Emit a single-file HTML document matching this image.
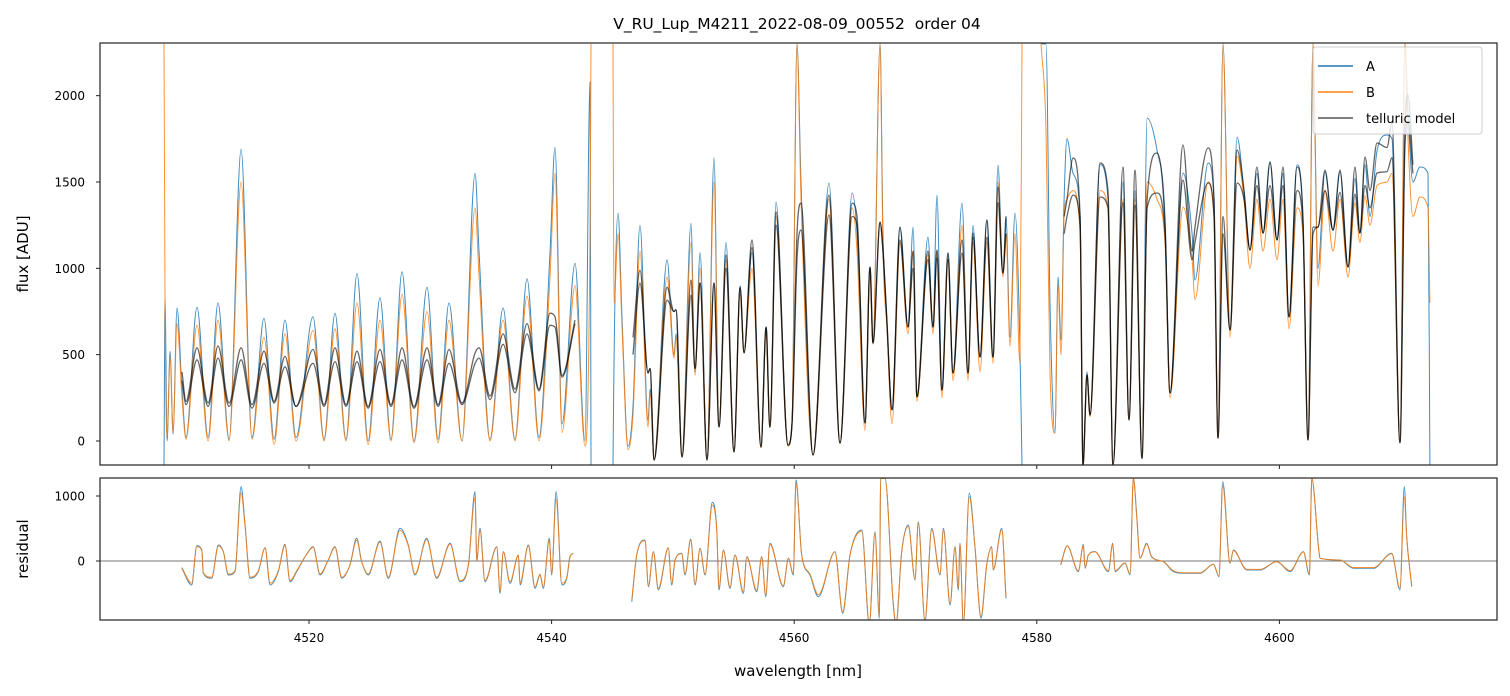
<!DOCTYPE html>
<html><head><meta charset="utf-8">
<style>
html,body{margin:0;padding:0;background:#fff;}
svg{display:block;font-family:"DejaVu Sans","Liberation Sans",sans-serif;}
</style></head>
<body>
<svg id="chart" width="1510" height="696" viewBox="0 0 1510 696" xmlns="http://www.w3.org/2000/svg">
<defs>
<clipPath id="clipTop"><rect x="100" y="43" width="1397" height="422"/></clipPath>
<clipPath id="clipRes"><rect x="100" y="478" width="1397" height="142"/></clipPath>
</defs>
<rect x="0" y="0" width="1510" height="696" fill="#fff"/>
<text x="797" y="29" font-size="15.5" text-anchor="middle" fill="#000" xml:space="preserve">V_RU_Lup_M4211_2022-08-09_00552  order 04</text>
<g id="topPlot" clip-path="url(#clipTop)"></g>
<g id="resPlot" clip-path="url(#clipRes)"></g>
<g id="axes"></g>
<text transform="translate(28,254) rotate(-90)" font-size="15" text-anchor="middle">flux [ADU]</text>
<text transform="translate(28,549) rotate(-90)" font-size="15" text-anchor="middle">residual</text>
<text x="798" y="676" font-size="15" text-anchor="middle">wavelength [nm]</text>
<g>
<rect x="1313" y="47" width="169" height="87" rx="3" fill="#fff" fill-opacity="0.8" stroke="#ccc" stroke-width="1"/>
<line x1="1318" y1="66" x2="1353" y2="66" stroke="#1f77b4" stroke-width="1.5"/>
<text x="1366" y="71" font-size="13">A</text>
<line x1="1318" y1="92" x2="1353" y2="92" stroke="#ff7f0e" stroke-width="1.5"/>
<text x="1366" y="97" font-size="13">B</text>
<line x1="1318" y1="118" x2="1353" y2="118" stroke="#555" stroke-width="1.5"/>
<text x="1366" y="123" font-size="13">telluric model</text>
</g>
</svg>
<script>
// ---- data: flux panel ----
const wl = [4508.05,4508.13,4508.30,4508.55,4508.79,4509.12,4509.53,4509.86,4510.77,4511.68,4512.50,4513.41,4514.40,4515.30,4516.29,4517.12,4518.02,4518.93,4520.33,4521.24,4522.14,4523.05,4523.96,4524.87,4525.85,4526.76,4527.67,4528.66,4529.73,4530.64,4531.54,4532.61,4533.69,4534.02,4534.92,4536.00,4536.98,4537.97,4538.96,4539.87,4540.28,4540.86,4541.93,4542.75,4543.17,4543.25,
4544.5,4545.06,4545.15,4545.48,4545.81,4546.30,4546.71,4547.29,4547.95,4548.12,4548.45,4549.52,4550.09,4550.26,4550.75,4551.49,4551.82,4552.24,4552.81,4553.39,4553.80,4554.38,4555.04,4555.54,4555.86,4556.52,4557.26,4557.68,4558.00,4558.50,4559.49,4559.82,4560.23,4560.56,4561.55,4562.87,4563.78,4564.77,4565.18,4565.84,4566.25,4566.50,4567.08,4567.32,4567.65,4568.06,4568.72,4569.38,4569.80,4570.12,4571.03,4571.44,4571.77,4572.18,4572.68,4573.09,4573.83,4574.33,4574.74,4575.32,4575.89,4576.39,4576.80,4577.21,4577.46,4577.79,4578.20,4578.61,4578.78,
4579.5,4580.35,4580.76,4581.09,4581.50,4581.75,4582.00,4582.25,4582.49,4582.99,4583.57,4583.81,4584.14,4584.39,4585.21,4585.87,4586.28,4587.11,4587.60,4588.10,4588.67,4589.09,4589.91,4590.57,4590.98,4592.05,4592.80,4593.04,4594.12,4594.61,4594.94,4595.35,4595.93,4596.51,4597.08,4597.58,4598.15,4598.65,4599.23,4599.80,4600.30,4600.79,4601.45,4601.94,4602.36,4602.77,4603.18,4603.76,4604.42,4605.00,4605.66,4606.23,4606.64,4607.06,4607.47,4608.05,4608.87,4609.28,4609.94,4610.35,4610.60,4611.01,4611.59,4612.25,4612.41];
const fluxA = [-140,830,0,520,40,770,300,20,775,20,800,10,1690,20,710,10,700,20,720,10,740,10,970,0,830,10,980,0,890,10,800,0,1550,1090,10,770,10,940,20,1090,1700,100,1030,0,2080,-140,
null,-140,500,1320,700,-30,200,1250,120,300,-110,1050,500,620,-90,1260,400,1090,-110,1640,80,1150,-60,900,510,1090,-35,660,80,1384,-23,100,2300,1500,-80,1494,-12,1436,1200,104,1007,567,2300,1200,683,180,1239,660,1239,255,1181,660,1424,295,1089,394,1378,394,1250,486,1280,486,1598,973,1300,600,1320,550,-140,
null,2300,2300,800,46,950,585,1400,1750,1550,1300,-140,400,150,1600,1400,-140,1500,122,1450,-100,1870,1685,1300,278,1552,1200,932,1610,1400,17,2300,643,1760,1450,1106,1550,1204,1616,1164,1550,718,1600,1300,6,2300,1000,1560,1222,1560,1007,1520,1204,1600,1300,1680,1772,1750,-10,2300,1900,1500,1587,1550,-140];
const fluxB = [2300,830,30,480,50,680,250,10,670,0,700,0,1500,10,600,-20,620,0,640,0,650,0,800,-20,700,0,850,-10,750,-10,700,0,1350,950,0,700,0,840,0,950,1550,50,900,-30,1200,2300,
null,2300,800,1200,650,-50,150,1100,80,280,-100,950,480,600,-90,1150,380,1000,-110,1500,80,1050,-60,850,510,1000,-40,620,80,1300,-30,100,2300,1400,-80,1400,-15,1350,1100,60,950,560,2300,1100,650,100,1150,620,1100,230,1080,620,1100,250,1050,350,1250,350,1150,400,1150,450,1500,950,1200,550,1200,450,2300,
null,2300,1800,400,46,900,500,1300,1400,1450,1200,-140,380,140,1450,1350,-140,1400,122,1400,-100,1500,1400,1150,250,1355,1050,820,1500,1300,17,2300,600,1650,1400,1000,1400,1100,1400,1050,1400,650,1350,1200,6,2300,900,1450,1100,1400,950,1380,1150,1420,1250,1480,1500,1550,-10,2300,1750,1300,1413,1350,800];
const modelHi = [null,null,null,null,null,null,400,230,540,220,550,220,540,210,520,230,490,200,530,210,540,210,520,200,530,210,540,200,540,210,530,220,510,540,260,620,300,680,300,740,720,380,700,null,null,null,
null,null,null,null,null,null,600,990,394,420,-110,890,750,760,-93,932,420,915,-110,915,81,1077,-64,890,510,1164,-35,660,80,1326,-23,100,1200,1378,-81,1424,-12,1378,1300,104,1007,567,1268,1100,683,180,1239,660,1100,255,1100,660,1106,295,1089,394,1164,394,1204,486,1280,486,1471,973,1300,null,null,null,null,
null,null,null,null,null,null,null,1300,1400,1639,1300,-140,383,150,1610,1450,-140,1587,122,1569,-100,1400,1668,1250,278,1714,1100,1239,1697,1400,17,1300,643,1685,1450,1106,1587,1204,1616,1164,1587,718,1587,1300,6,1239,1239,1569,1222,1569,1007,1587,1204,1645,1450,1726,1700,1841,-10,1800,2003,1600,null,null,null];
const modelLo = [null,null,null,null,null,null,350,210,470,200,480,200,470,190,450,220,430,200,450,200,460,200,460,190,460,200,470,190,470,200,450,210,450,480,240,560,280,620,290,670,660,370,680,null,null,null,
null,null,null,null,null,null,500,915,394,420,-110,816,750,760,-93,845,420,915,-110,915,81,1000,-64,890,510,1120,-35,660,80,1250,-23,100,1050,1222,-81,1309,-12,1300,1250,104,1007,567,1268,1100,683,180,1164,660,1000,255,1050,660,1060,295,1050,394,1089,394,1180,486,1180,486,1380,973,1200,null,null,null,null,
null,null,null,null,null,null,null,1200,1300,1424,1250,-140,383,150,1413,1350,-140,1380,122,1367,-100,1350,1436,1200,278,1511,1050,1150,1494,1300,17,1200,643,1494,1400,1106,1480,1204,1480,1164,1480,718,1450,1250,6,1200,1239,1450,1222,1440,1007,1430,1204,1480,1350,1552,1560,1640,-10,1700,1850,1550,null,null,null];

// ---- data: residual panel ----
const wlRes = [4509.51,4510.33,4510.75,4511.16,4511.29,4511.98,4512.53,4512.94,4513.35,4513.90,4514.40,4514.73,4515.14,4515.82,4516.38,4516.79,4517.47,4518.02,4518.43,4518.99,4519.76,4520.35,4520.91,4521.59,4522.14,4522.70,4523.38,4523.93,4524.34,4524.89,4525.85,4526.54,4527.50,4528.19,4528.74,4529.70,4530.53,4531.63,4532.45,4533.14,4533.69,4533.83,4534.10,4534.51,4535.48,4535.75,4536.02,4536.57,4537.26,4537.40,4538.08,4538.64,4539.04,4539.32,4539.81,4540.01,4540.37,4540.84,4541.25,4541.52,4541.79,
4544.0,
4546.61,4547.02,4547.70,4547.98,4548.39,4548.80,4549.62,4549.90,4550.18,4550.73,4551.00,4551.47,4551.83,4552.24,4552.65,4553.25,4553.61,4553.80,4554.16,4554.71,4555.12,4555.81,4556.09,4556.91,4557.32,4557.65,4558.00,4559.10,4559.52,4559.93,4560.15,4560.62,4561.30,4561.99,4563.36,4564.00,4564.60,4565.57,4566.19,4566.66,4567.02,4567.13,4567.49,4568.17,4568.39,4568.86,4569.41,4569.96,4570.23,4570.78,4571.34,4572.02,4572.30,4572.85,4573.26,4573.53,4573.67,4573.94,4574.44,4574.91,4575.40,4575.87,4576.28,4576.41,4577.11,4577.46,
4579.5,
4581.97,4582.51,4583.42,4583.84,4583.98,4584.25,4584.80,4585.90,4586.26,4586.45,4587.27,4587.69,4587.96,4588.24,4588.51,4589.06,4589.47,4590.43,4591.26,4592.08,4593.46,4594.56,4595.02,4595.33,4595.93,4596.21,4597.31,4598.41,4599.78,4600.88,4601.98,4602.47,4602.67,4603.21,4603.35,4605.00,4606.10,4607.75,4609.26,4609.94,4610.30,4610.49,4610.91];
const resA = [-113,-369,236,169,-190,-267,246,144,-215,-164,1144,554,-267,-164,205,-369,-164,256,-318,-164,92,220,-215,15,220,-267,-62,349,-10,-215,308,-267,503,246,-215,349,-267,272,-318,-62,1067,0,503,-318,220,-498,144,-344,92,-369,246,-421,-215,-421,349,-215,1067,-369,-267,67,118,
null,
-626,92,323,-395,144,-446,205,-369,15,118,-215,339,-369,195,-215,903,503,-446,169,-421,92,-498,67,-472,67,-549,272,-395,41,-215,1247,92,-215,-549,144,-805,92,477,-985,451,-882,1272,1272,-677,-985,144,554,-292,605,-934,503,-215,503,-677,221,-446,272,-985,1041,195,-882,-62,221,-139,503,-575,
null,
-62,236,-164,256,-113,92,144,-164,272,-164,-36,-215,1272,708,41,272,67,-10,-164,-190,-190,-51,-241,1221,-36,169,-139,-139,-10,-164,144,-215,1272,246,41,15,-113,-113,118,-446,1144,400,-395];
const resB = [-100,-340,220,160,-180,-250,230,140,-200,-150,1050,520,-250,-150,200,-340,-150,240,-300,-150,90,210,-200,20,210,-250,-60,320,-10,-200,290,-250,470,230,-200,330,-250,260,-300,-60,980,0,470,-300,210,-470,140,-320,90,-340,230,-400,-200,-400,320,-200,950,-340,-250,60,120,
null,
-590,90,310,-380,140,-420,200,-350,15,110,-200,320,-350,190,-200,860,480,-420,160,-400,90,-470,60,-450,60,-520,260,-380,40,-200,1200,90,-200,-520,140,-780,90,460,-950,430,-850,1272,1272,-650,-950,140,530,-280,580,-900,480,-200,480,-650,210,-420,260,-950,990,190,-850,-60,210,-130,480,-550,
null,
-50,230,-150,240,-100,90,140,-150,260,-150,-30,-200,1272,680,40,260,60,-10,-150,-180,-180,-50,-230,1150,-30,160,-130,-130,-10,-150,140,-200,1272,240,40,15,-100,-100,110,-420,980,380,-380];

// ---- axis ticks ----
const xTicks = [4520,4540,4560,4580,4600];
const yTicksTop = [0,500,1000,1500,2000];
const yTicksRes = [0,1000];

// ---- scales ----
const X0=100, X1=1497, XMIN=4502.77, XMAX=4617.94;
const TY0=465, TY1=43, TMIN=-139, TMAX=2305;
const RY0=620, RY1=478, RMIN=-908, RMAX=1277;
const sx = v => X0 + (v - XMIN) / (XMAX - XMIN) * (X1 - X0);
const sy = v => TY0 - (v - TMIN) / (TMAX - TMIN) * (TY0 - TY1);
const sr = v => RY0 - (v - RMIN) / (RMAX - RMIN) * (RY0 - RY1);
const NS = 'http://www.w3.org/2000/svg';

// monotone cubic path through a run of points
function monoSeg(pts){
  const n = pts.length;
  if (n === 1) return 'M' + pts[0][0].toFixed(1) + ',' + pts[0][1].toFixed(1);
  const d = [], m = [];
  for (let i = 0; i < n - 1; i++){
    const dx = pts[i+1][0] - pts[i][0];
    d.push(dx === 0 ? 0 : (pts[i+1][1] - pts[i][1]) / dx);
  }
  m[0] = d[0]; m[n-1] = d[n-2];
  for (let i = 1; i < n - 1; i++){
    m[i] = (d[i-1] * d[i] <= 0) ? 0 : (d[i-1] + d[i]) / 2;
  }
  for (let i = 0; i < n - 1; i++){
    if (d[i] === 0){ m[i] = 0; m[i+1] = 0; continue; }
    const a = m[i] / d[i], b = m[i+1] / d[i], s = a*a + b*b;
    if (s > 9){ const t = 3 / Math.sqrt(s); m[i] = t*a*d[i]; m[i+1] = t*b*d[i]; }
  }
  let p = 'M' + pts[0][0].toFixed(1) + ',' + pts[0][1].toFixed(1);
  for (let i = 0; i < n - 1; i++){
    const h = (pts[i+1][0] - pts[i][0]) / 3;
    p += 'C' + (pts[i][0] + h).toFixed(1) + ',' + (pts[i][1] + m[i]*h).toFixed(1) + ' ' +
         (pts[i+1][0] - h).toFixed(1) + ',' + (pts[i+1][1] - m[i+1]*h).toFixed(1) + ' ' +
         pts[i+1][0].toFixed(1) + ',' + pts[i+1][1].toFixed(1);
  }
  return p;
}
function pathFrom(xs, ys, yScale){
  let out = '', run = [];
  for (let i = 0; i < xs.length; i++){
    const v = ys[i];
    if (v === null || v === undefined){ if (run.length) out += monoSeg(run); run = []; continue; }
    run.push([sx(xs[i]), yScale(v)]);
  }
  if (run.length) out += monoSeg(run);
  return out;
}
function addPath(parent, d, color, width, opacity, name){
  const p = document.createElementNS(NS, 'path');
  p.setAttribute('d', d);
  p.setAttribute('fill', 'none');
  p.setAttribute('stroke', color);
  p.setAttribute('stroke-width', width);
  p.setAttribute('stroke-opacity', opacity);
  p.setAttribute('stroke-linejoin', 'round');
  
  
  parent.appendChild(p);
}
const topG = document.getElementById('topPlot');
addPath(topG, pathFrom(wl, fluxA, sy), '#1f77b4', 1, 0.85, 'series-a-line');
addPath(topG, pathFrom(wl, fluxB, sy), '#ff7f0e', 1, 0.85, 'series-b-line');
addPath(topG, pathFrom(wl, modelHi, sy), '#000', 1.3, 0.6, 'telluric-model-a-line');
addPath(topG, pathFrom(wl, modelLo, sy), '#000', 1.3, 0.6, 'telluric-model-b-line');

const resG = document.getElementById('resPlot');
const zl = document.createElementNS(NS, 'line');
zl.setAttribute('x1', X0); zl.setAttribute('x2', X1);
zl.setAttribute('y1', sr(0)); zl.setAttribute('y2', sr(0));
zl.setAttribute('stroke', '#777'); zl.setAttribute('stroke-width', '1');


resG.appendChild(zl);
addPath(resG, pathFrom(wlRes, resA, sr), '#1f77b4', 1, 0.85, 'residual-a-line');
addPath(resG, pathFrom(wlRes, resB, sr), '#ff7f0e', 1, 0.85, 'residual-b-line');

// ---- axes ----
const axG = document.getElementById('axes');
function mk(tag, attrs){ const e = document.createElementNS(NS, tag); for (const k in attrs) e.setAttribute(k, attrs[k]); axG.appendChild(e); return e; }
const frameTop = mk('rect', {x:X0, y:TY1, width:X1-X0, height:TY0-TY1, fill:'none', stroke:'#222', 'stroke-width':1.2});


const frameRes = mk('rect', {x:X0, y:RY1, width:X1-X0, height:RY0-RY1, fill:'none', stroke:'#222', 'stroke-width':1.2});


xTicks.forEach(t => {
  const x = sx(t);
  const t1 = mk('line', {x1:x, x2:x, y1:TY0, y2:TY0+4, stroke:'#222', 'stroke-width':1});
  
  
  const t2 = mk('line', {x1:x, x2:x, y1:RY0, y2:RY0+4, stroke:'#222', 'stroke-width':1});
  
  
  const lb = mk('text', {x:x, y:RY0+22, 'font-size':12, 'text-anchor':'middle'});
  lb.textContent = t;
  
  
});
yTicksTop.forEach(t => {
  const y = sy(t);
  const tk = mk('line', {x1:X0-4, x2:X0, y1:y, y2:y, stroke:'#222', 'stroke-width':1});
  
  
  const lb = mk('text', {x:X0-15, y:y+4.5, 'font-size':12, 'text-anchor':'end'});
  lb.textContent = t;
  
  
});
yTicksRes.forEach(t => {
  const y = sr(t);
  const tk = mk('line', {x1:X0-4, x2:X0, y1:y, y2:y, stroke:'#222', 'stroke-width':1});
  
  
  const lb = mk('text', {x:X0-15, y:y+4.5, 'font-size':12, 'text-anchor':'end'});
  lb.textContent = t;
  
  
});
</script>
</body></html>
